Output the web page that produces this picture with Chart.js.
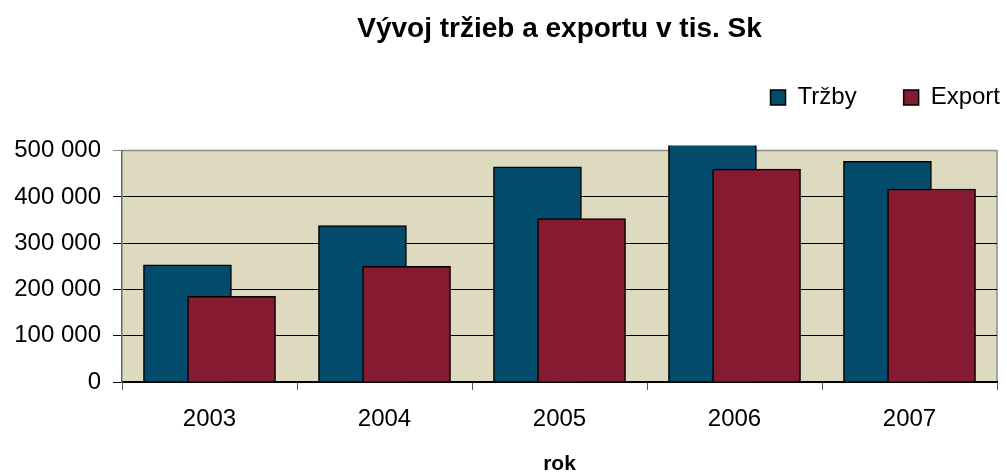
<!DOCTYPE html>
<html>
<head>
<meta charset="utf-8">
<script src="https://cdn.jsdelivr.net/npm/chart.js@4/dist/chart.umd.min.js"></script>
<style>
  html, body { margin: 0; padding: 0; background: #fff; }
  #wrap { width: 1007px; height: 474px; }
</style>
</head>
<body>
<div id="wrap"><canvas id="barChart"></canvas></div>
<script>
// Údaje z grafu (tis. Sk)
const roky = [2003, 2004, 2005, 2006, 2007];
const trzby = [253000, 338000, 465000, 520000, 477000];
const export_ = [185000, 250000, 353000, 460000, 417000];
const yTicks = [0, 100000, 200000, 300000, 400000, 500000];

const posun = 0.126; // prekrytie stĺpcov ako v Exceli
const fontName = '"Liberation Sans", Arial, sans-serif';

// pozadie plochy grafu + orámovanie
const plotBg = {
  id: 'plotBg',
  beforeDraw(chart) {
    const { ctx, chartArea: a } = chart;
    ctx.save();
    ctx.fillStyle = '#DEDAC0';
    ctx.fillRect(a.left, a.top, a.right - a.left, a.bottom - a.top);
    ctx.strokeStyle = '#8c8c8c';
    ctx.lineWidth = 1.5;
    ctx.beginPath();
    ctx.moveTo(a.left, a.top);
    ctx.lineTo(a.right, a.top);
    ctx.lineTo(a.right, a.bottom);
    ctx.stroke();
    ctx.restore();
  }
};

// medzera pod legendou
const legendGap = {
  id: 'legendGap',
  afterInit(chart) {
    const lg = chart.legend;
    if (!lg) return;
    const fit = lg.fit.bind(lg);
    lg.fit = function () { fit(); this.height += 31; };
  }
};

const ctx = document.getElementById('barChart').getContext('2d');
const barChart = new Chart(ctx, {
  type: 'bar',
  data: {
    labels: roky.map(String),
    datasets: [{
      label: 'Tržby',
      data: roky.map((r, i) => ({ x: r, y: trzby[i] })),
      backgroundColor: '#024B6B',
      borderColor: '#000',
      borderWidth: 1.5,
      borderSkipped: 'bottom',
      barThickness: 88,
      grouped: false,
      xAxisID: 'xt',
      order: 2,
      clip: { left: 0, right: 0, top: 5, bottom: 0 }
    }, {
      label: 'Export',
      data: roky.map((r, i) => ({ x: r, y: export_[i] })),
      backgroundColor: '#861A31',
      borderColor: '#000',
      borderWidth: 1.5,
      borderSkipped: 'bottom',
      barThickness: 88,
      grouped: false,
      xAxisID: 'xe',
      order: 1
    }]
  },
  options: {
    responsive: true,
    maintainAspectRatio: false,
    animation: false,
    layout: { padding: { left: 0, right: 0, top: 0, bottom: 0 } },
    plugins: {
      title: {
        display: true,
        fullSize: false,
        text: 'Vývoj tržieb a exportu v tis. Sk',
        color: '#000',
        font: { family: fontName, size: 28, weight: 'bold' },
        padding: { top: 12, bottom: 33 }
      },
      legend: {
        position: 'top',
        align: 'end',
        labels: {
          color: '#000',
          font: { family: fontName, size: 24 },
          boxWidth: 15,
          boxHeight: 15,
          padding: 7,
          generateLabels: (chart) => Chart.defaults.plugins.legend.labels.generateLabels(chart)
            .map(it => ({ ...it, text: it.datasetIndex === 0 ? it.text + '      ' : it.text })),
          sort: (a, b) => a.datasetIndex - b.datasetIndex
        }
      },
      tooltip: { enabled: false }
    },
    scales: {
      x: {
        type: 'category',
        offset: true,
        afterFit: (scale) => { scale.paddingRight = 10; },
        grid: { drawOnChartArea: false, color: '#555', tickLength: 8, offset: true },
        border: { color: '#000', width: 1.5 },
        ticks: { color: '#000', font: { family: fontName, size: 24 }, padding: 15 },
        title: {
          display: true,
          text: 'rok',
          color: '#000',
          font: { family: fontName, size: 21, weight: 'bold' },
          padding: { top: 3, bottom: -3 }
        }
      },
      xt: {
        type: 'linear',
        display: false,
        offset: false,
        min: roky[0] - 0.5 + posun,
        max: roky[roky.length - 1] + 0.5 + posun
      },
      xe: {
        type: 'linear',
        display: false,
        offset: false,
        min: roky[0] - 0.5 - posun,
        max: roky[roky.length - 1] + 0.5 - posun
      },
      y: {
        min: 0,
        max: 500000,
        afterFit: (scale) => { scale.width = 122; },
        afterBuildTicks: (scale) => { scale.ticks = yTicks.map(v => ({ value: v })); },
        grid: {
          color: (c) => (c.tick && c.tick.value === 500000) ? '#8c8c8c' : '#000',
          lineWidth: 1,
          tickLength: 9
        },
        border: { color: '#666', width: 1.5 },
        ticks: {
          color: '#000',
          font: { family: fontName, size: 24 },
          padding: 12,
          callback: (v) => v.toLocaleString('en-US').replace(/,/g, ' ')
        }
      }
    }
  },
  plugins: [plotBg, legendGap]
});
</script>
</body>
</html>
